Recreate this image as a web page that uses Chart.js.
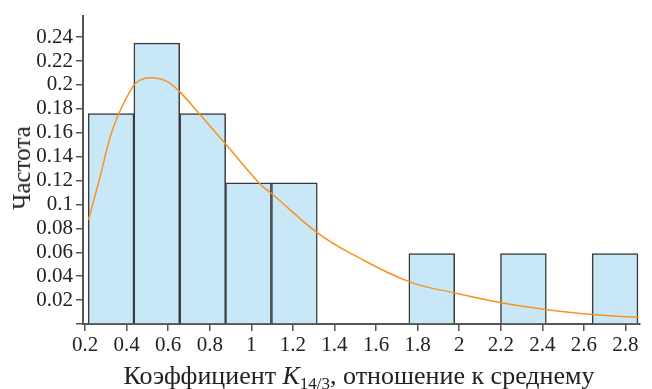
<!DOCTYPE html>
<html>
<head>
<meta charset="utf-8">
<script src="https://cdn.jsdelivr.net/npm/chart.js@4"></script>
<style>
    body { margin: 0; background: #fff; }
    .wrap { position: relative; width: 652px; height: 389px; font-family: 'Liberation Serif', serif; color: #222; }
    canvas { position: absolute; left: 0; top: 0; }
    .y-title { position: absolute; left: 22px; top: 168px; transform: translate(-50%, -50%) rotate(-90deg); font-size: 25px; white-space: nowrap; }
    .x-title { position: absolute; left: 359px; top: 376px; transform: translate(-50%, -50%); font-size: 26px; white-space: nowrap; }
    .x-title sub { font-size: 17px; vertical-align: -5px; line-height: 0; }
</style>
</head>
<body>
<div class="wrap">
    <canvas id="histChart" width="652" height="389"></canvas>
    <div class="y-title">Частота</div>
    <div class="x-title">Коэффициент <i>K</i><sub>14/3</sub>, отношение к среднему</div>
</div>
<script>
// histogram bins (centres) and relative frequencies
const binCenters = [0.325, 0.545, 0.766, 0.986, 1.207, 1.427, 1.648, 1.868, 2.089, 2.309, 2.530, 2.750];
const binWidth = 0.2205;
const frequencies = [0.176, 0.235, 0.176, 0.118, 0.118, 0, 0, 0.059, 0, 0.059, 0, 0.059];

// fitted density curve
const curveX = [0.216, 0.272, 0.32, 0.36, 0.431, 0.465, 0.521, 0.593, 0.657, 0.754, 0.874, 1.043, 1.099, 1.32, 1.49, 1.765, 1.98, 2.198, 2.423, 2.643, 2.864];
const curveY = [0.087, 0.123, 0.156, 0.175, 0.199, 0.204, 0.206, 0.203, 0.194, 0.175, 0.151, 0.117, 0.109, 0.076, 0.058, 0.035, 0.026, 0.018, 0.012, 0.008, 0.0055];

const xTicks = [0.2, 0.4, 0.6, 0.8, 1, 1.2, 1.4, 1.6, 1.8, 2, 2.2, 2.4, 2.6, 2.8];
const yTicks = [0, 0.02, 0.04, 0.06, 0.08, 0.1, 0.12, 0.14, 0.16, 0.18, 0.2, 0.22, 0.24];

const axisColor = '#555';
const tickFont = { family: "'Liberation Serif', serif", size: 21 };

const chart = new Chart(document.getElementById('histChart'), {
    type: 'bar',
    data: {
        datasets: [{
            type: 'line',
            data: curveX.map((x, i) => ({ x: x, y: curveY[i] })),
            borderColor: '#f7931e',
            borderWidth: 1.5,
            pointRadius: 0,
            tension: 0.4,
            order: 0
        }, {
            type: 'bar',
            data: binCenters.map((x, i) => ({ x: x, y: frequencies[i] })),
            backgroundColor: '#c8e8f8',
            borderColor: '#3a3a3a',
            borderWidth: 1.5,
            barPercentage: 1,
            categoryPercentage: 1,
            grouped: false,
            order: 1
        }]
    },
    options: {
        responsive: false,
        animation: false,
        layout: { padding: { top: 10, right: 12, left: 0, bottom: 0 } },
        plugins: { legend: { display: false }, tooltip: { enabled: false } },
        scales: {
            x: {
                type: 'linear',
                offset: false,
                min: 0.19,
                max: 2.87,
                afterBuildTicks: scale => { scale.ticks = xTicks.map(v => ({ value: v })); },
                afterFit: scale => { scale.height = 65; },
                border: { display: true, color: axisColor, width: 2 },
                grid: { offset: false, drawOnChartArea: false, drawTicks: true, tickLength: 7, color: axisColor, lineWidth: 1.5 },
                ticks: {
                    color: '#222',
                    font: tickFont,
                    padding: 2,
                    maxRotation: 0,
                    autoSkip: false,
                    callback: v => String(+v.toFixed(1))
                }
            },
            y: {
                min: 0,
                max: 0.258,
                afterBuildTicks: scale => { scale.ticks = yTicks.map(v => ({ value: v })); },
                afterFit: scale => { scale.width = 83; },
                border: { display: true, color: axisColor, width: 2 },
                grid: { drawOnChartArea: false, drawTicks: true, tickLength: 7, color: axisColor, lineWidth: 1.5 },
                ticks: {
                    color: '#222',
                    font: tickFont,
                    padding: 3,
                    autoSkip: false,
                    callback: v => v === 0 ? '' : String(+v.toFixed(2))
                }
            }
        }
    }
});

// make bars exactly one bin wide on the linear x scale
const xScale = chart.scales.x;
chart.data.datasets[1].barThickness = xScale.getPixelForValue(binWidth) - xScale.getPixelForValue(0);
chart.update();
</script>
</body>
</html>
